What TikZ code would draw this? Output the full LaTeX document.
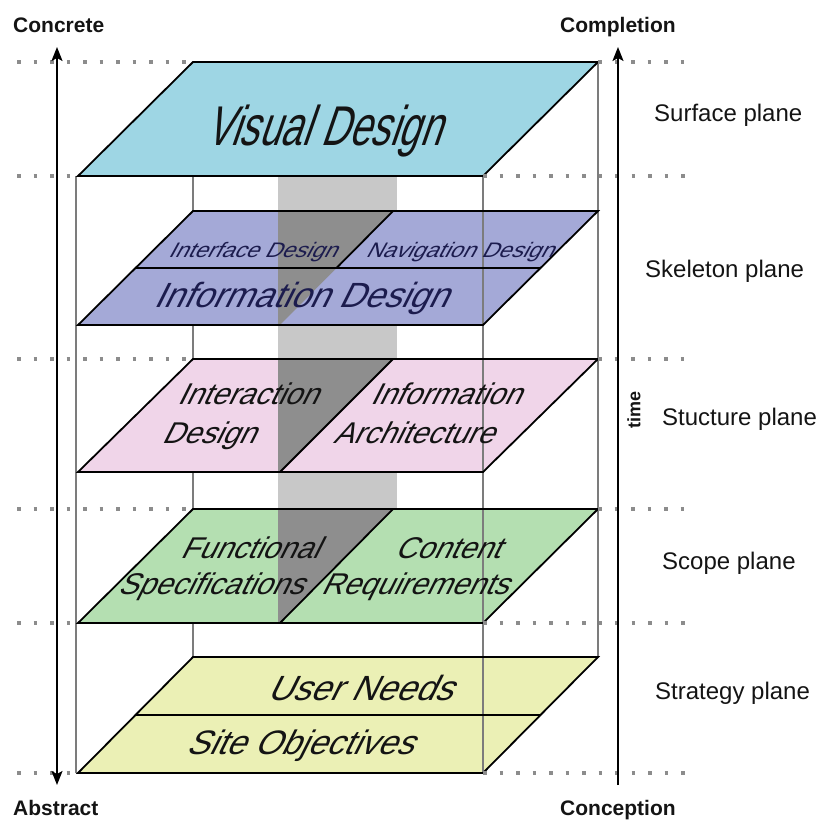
\documentclass[tikz,border=0pt]{standalone}
\usepackage{fontspec}
\setmainfont{Liberation Sans}
\newfontfamily\planefont[FakeSlant=0.5]{Liberation Sans}
\usetikzlibrary{arrows.meta, calc}
\definecolor{Ink}{HTML}{141414}
\definecolor{Navy}{HTML}{1C1C4E}
\definecolor{SurfaceCol}{HTML}{9ED6E4}
\definecolor{SkeletonCol}{HTML}{A4A9D7}
\definecolor{StructureCol}{HTML}{F0D5E9}
\definecolor{ScopeCol}{HTML}{B4DFB1}
\definecolor{StrategyCol}{HTML}{EBF0B5}
\definecolor{BandLight}{HTML}{C8C8C8}
\definecolor{BandDark}{HTML}{8E8E8E}
\definecolor{EdgeGray}{HTML}{7C7C7C}
\definecolor{DotGray}{HTML}{8C8C8C}
\newcommand{\fsize}[1]{\fontsize{#1}{#1}\selectfont}
\tikzset{
    plane/.style={draw=black, line width=1.8pt, line join=miter},
    divider/.style={draw=black, line width=1.8pt},
    boxedge/.style={draw=EdgeGray, line width=2pt},
    guide/.style={draw=DotGray, line width=3.5pt, dash pattern=on 3.5pt off 13pt},
    axis/.style={line width=1.6pt, color=black},
    planetext/.style={font=\planefont\fsize{#1}, text=Ink, anchor=base, inner sep=0pt},
    sidelabel/.style={font=\fsize{24}, text=Ink, anchor=base west, inner sep=0pt},
    endlabel/.style={font=\bfseries\fsize{21}, text=Ink, anchor=base west, inner sep=0pt},
}

\begin{document}
\begin{tikzpicture}[x=1pt, y=-1pt]
    \useasboundingbox (0,0) rectangle (819,820);

    % Angoli dei piani
    \foreach \nm/\yy/\hh in {surf/62/114, skel/211/114, struc/359/113, scope/509/114, strat/657/116}{
        \coordinate (\nm-bl) at (193,\yy);
        \coordinate (\nm-br) at (598,\yy);
        \coordinate (\nm-fr) at (483,{\yy+\hh});
        \coordinate (\nm-fl) at (78,{\yy+\hh});
        \coordinate (\nm-tm) at (393,\yy);
        \coordinate (\nm-fm) at (280,{\yy+\hh});
        \coordinate (\nm-tb) at (278,\yy);
        \coordinate (\nm-fb) at (278,{\yy+\hh});
    }

    % Fascia grigia e spigoli posteriori
    \fill[BandLight] (surf-fl -| skel-tb) rectangle (scope-tm -| 397,0);
    \draw[boxedge] (strat-bl |- surf-fl) -- (strat-bl);
    \draw[boxedge] (surf-br) -- (strat-br);
    \draw[boxedge] ([xshift=-2pt]surf-fl) -- ([xshift=-2pt]strat-fl);

    % Piani
    \foreach \nm/\col in {surf/SurfaceCol, skel/SkeletonCol, struc/StructureCol, scope/ScopeCol, strat/StrategyCol}
        \fill[\col] (\nm-bl) -- (\nm-br) -- (\nm-fr) -- (\nm-fl) -- cycle;
    \foreach \nm in {skel, struc, scope}
        \fill[BandDark] (\nm-tb) -- (\nm-tm) -- (\nm-fm) -- (\nm-fb) -- cycle;
    \draw[boxedge] (surf-fr) -- (strat-fr);
    \foreach \nm in {surf, skel, struc, scope, strat}
        \draw[plane] (\nm-bl) -- (\nm-br) -- (\nm-fr) -- (\nm-fl) -- cycle;

    % Divisioni
    \draw[divider] ($(skel-bl)!0.5!(skel-fl)$) -- ($(skel-br)!0.5!(skel-fr)$);
    \draw[divider] (skel-tm) -- ($(skel-tm)!0.5!(skel-fm)$);
    \draw[divider] (struc-tm) -- (struc-fm);
    \draw[divider] (scope-tm) -- (scope-fm);
    \draw[divider] ($(strat-bl)!0.5!(strat-fl)$) -- ($(strat-br)!0.5!(strat-fr)$);

    % Testi dei piani
    \node[planetext=56, xscale=0.69] (visual) at (323,145) {Visual Design};
    \node[planetext=21, xscale=1.1, text=Navy] (iface) at (252,257) {Interface Design};
    \node[planetext=21, xscale=1.1, text=Navy] (nav) at (459,257) {Navigation Design};
    \node[planetext=35, text=Navy] (infod) at (300,307) {Information Design};
    \node[planetext=30] (interact1) at (247,404) {Interaction};
    \node[planetext=30] (interact2) at (208,443) {Design};
    \node[planetext=30] (infoarch1) at (445,404) {Information};
    \node[planetext=30] (infoarch2) at (413,443) {Architecture};
    \node[planetext=30] (func1) at (249,558) {Functional};
    \node[planetext=30] (func2) at (210,594) {Specifications};
    \node[planetext=30] (content1) at (447,558) {Content};
    \node[planetext=30] (content2) at (414,594) {Requirements};
    \node[planetext=35] (userneeds) at (359,700) {User Needs};
    \node[planetext=34] (siteobj) at (299,754) {Site Objectives};

    % Linee tratteggiate
    \foreach \a/\b/\yy in {surf-bl/surf-br/62, surf-fl/surf-fr/176, struc-bl/struc-br/359, scope-bl/scope-br/509, scope-fl/scope-fr/623, strat-fl/strat-fr/773}{
        \coordinate (gl) at (17,\yy);
        \coordinate (gr) at (695,\yy);
        \draw[guide] (gl) -- (\a);
        \draw[guide] (\b) -- (gr);
    }

    % Frecce
    \coordinate (abstract-end) at (57,785);
    \coordinate (concrete-end) at (57,47);
    \coordinate (time-start) at (618,785);
    \coordinate (time-end) at (618,47);
    \draw[axis, {Stealth[length=14pt, width=11pt, inset=3pt]}-{Stealth[length=14pt, width=11pt, inset=3pt]}] (abstract-end) -- (concrete-end);
    \draw[axis, -{Stealth[length=14pt, width=11pt, inset=3pt]}] (time-start) -- (time-end);

    \node[endlabel] (concrete) at (13,32) {Concrete};
    \node[endlabel] (abstract) at (13,815) {Abstract};
    \node[endlabel] (completion) at (560,32) {Completion};
    \node[endlabel] (conception) at (560,815) {Conception};
    \node[font=\bfseries\fsize{18}, text=Ink, rotate=90] (timelbl) at (634,410) {time};

    % Etichette dei piani
    \node[sidelabel] (surfacelbl) at (654,121) {Surface plane};
    \node[sidelabel] (skeletonlbl) at (645,277) {Skeleton plane};
    \node[sidelabel] (structurelbl) at (662,425) {Stucture plane};
    \node[sidelabel] (scopelbl) at (662,569) {Scope plane};
    \node[sidelabel] (strategylbl) at (655,699) {Strategy plane};
\end{tikzpicture}
\end{document}
